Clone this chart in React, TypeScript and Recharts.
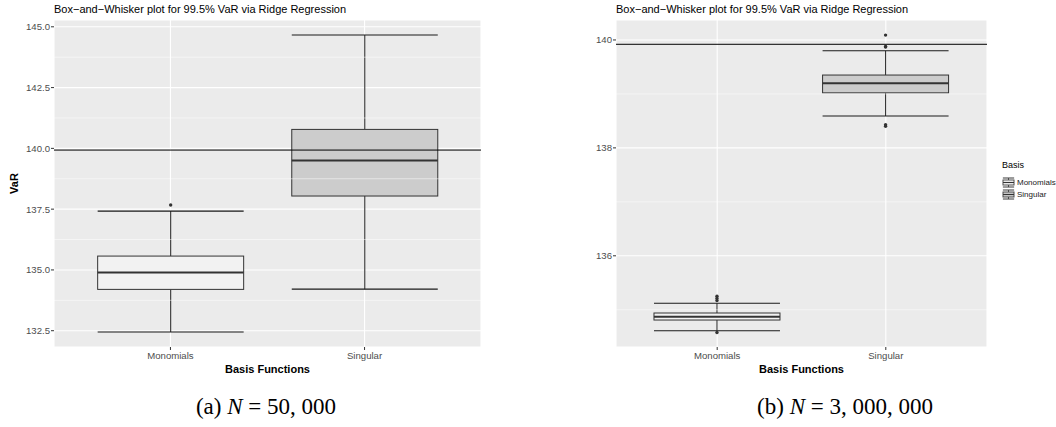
import React from 'react';
import { ComposedChart, Bar, XAxis, YAxis, CartesianGrid, ReferenceLine } from 'recharts';

// ---------- data ----------
const categories = ['Monomials', 'Singular'];

// Panel (a): N = 50,000
const aLower = [132.45, 134.21];
const aQ1 = [134.2, 138.04];
const aMedian = [134.89, 139.5];
const aQ3 = [135.57, 140.78];
const aUpper = [137.42, 144.66];
const aOutliers = [[137.67], []];
const aTrueVaR = 139.93;
const aTicks = [132.5, 135, 137.5, 140, 142.5, 145];
const aMinorTicks = [133.75, 136.25, 138.75, 141.25, 143.75];
const aDomain: [number, number] = [131.83, 145.28];

// Panel (b): N = 3,000,000
const bLower = [134.61, 138.59];
const bQ1 = [134.81, 139.02];
const bMedian = [134.87, 139.2];
const bQ3 = [134.94, 139.35];
const bUpper = [135.12, 139.8];
const bOutliers = [[135.25, 135.21, 135.17, 134.58], [140.09, 139.88, 139.87, 138.43, 138.4]];
const bTrueVaR = 139.92;
const bTicks = [136, 138, 140];
const bMinorTicks = [135, 137, 139];
const bDomain: [number, number] = [134.31, 140.37];

const titleText = 'Box\u2212and\u2212Whisker plot for 99.5% VaR via Ridge Regression';
const xTitle = 'Basis Functions';
const yTitle = 'VaR';
const legendTitle = 'Basis';

// ---------- styles ----------
const FONT = '"Liberation Sans", Arial, Helvetica, sans-serif';
const BOX_FILLS = ['#F2F2F2', '#CCCCCC'];
const BOX_STROKE = '#333333';
const CAP_STROKE = '#1A1A1A';

function buildRows(lower: number[], q1: number[], median: number[], q3: number[], upper: number[], outliers: number[][]) {
  return categories.map((c, i) => ({
    category: c,
    box: [q1[i], q3[i]],
    lower: lower[i],
    q1: q1[i],
    median: median[i],
    q3: q3[i],
    upper: upper[i],
    outliers: outliers[i],
    idx: i,
  }));
}

const aRows = buildRows(aLower, aQ1, aMedian, aQ3, aUpper, aOutliers);
const bRows = buildRows(bLower, bQ1, bMedian, bQ3, bUpper, bOutliers);

const BoxShape = (props: any) => {
  const { x, y, width, height, payload } = props;
  if (!payload) return null;
  const { q1, q3, median, lower, upper, outliers, idx } = payload;
  const top = Math.min(y, y + height);
  const h = Math.abs(height);
  const k = h / (q3 - q1);
  const yOf = (v: number) => top + (q3 - v) * k;
  const cx = x + width / 2;
  return (
    <g>
      <line x1={cx} x2={cx} y1={yOf(upper)} y2={top} stroke={BOX_STROKE} strokeWidth={1.1} />
      <line x1={cx} x2={cx} y1={top + h} y2={yOf(lower)} stroke={BOX_STROKE} strokeWidth={1.1} />
      <line x1={x} x2={x + width} y1={yOf(upper)} y2={yOf(upper)} stroke={CAP_STROKE} strokeWidth={1.1} />
      <line x1={x} x2={x + width} y1={yOf(lower)} y2={yOf(lower)} stroke={CAP_STROKE} strokeWidth={1.1} />
      <rect x={x} y={top} width={width} height={h} fill={BOX_FILLS[idx]} stroke={BOX_STROKE} strokeWidth={1} />
      <line x1={x} x2={x + width} y1={yOf(median)} y2={yOf(median)} stroke={BOX_STROKE} strokeWidth={2} />
      {outliers.map((v: number, j: number) => (
        <circle key={j} cx={cx} cy={yOf(v)} r={1.7} fill={BOX_STROKE} />
      ))}
    </g>
  );
};

const YLabel = (props: any) => {
  const vb = props.viewBox || {};
  const x = vb.x + 4;
  const y = vb.y + vb.height / 2;
  return (
    <text
      x={x}
      y={y}
      transform={`rotate(-90, ${x}, ${y})`}
      textAnchor="middle"
      dominantBaseline="central"
      fontFamily={FONT}
      fontSize={11}
      fontWeight="bold"
      fill="#000"
    >
      {yTitle}
    </text>
  );
};

type PanelProps = {
  rows: any[];
  trueVaR: number;
  ticks: number[];
  minorTicks: number[];
  domain: [number, number];
  digits: number;
  width: number;
  marginRight: number;
  yAxisWidth: number;
  pad: number;
  showYTitle: boolean;
};

const Panel = ({ rows, trueVaR, ticks, minorTicks, domain, digits, width, marginRight, yAxisWidth, pad, showYTitle }: PanelProps) => (
  <ComposedChart
    width={width}
    height={380}
    data={rows}
    margin={{ top: 20, right: marginRight, left: 10, bottom: 0 }}
    barCategoryGap="12.5%"
  >
    <CartesianGrid stroke="#FFFFFF" strokeWidth={1.1} fill="#EBEBEB" />
    {minorTicks.map((v) => (
      <ReferenceLine key={v} y={v} stroke="#FFFFFF" strokeWidth={0.5} />
    ))}
    <XAxis
      dataKey="category"
      type="category"
      padding={{ left: pad, right: pad }}
      axisLine={false}
      tickLine={{ stroke: '#333333' }}
      tickSize={3}
      tickMargin={2.5}
      tick={{ fill: '#4D4D4D', fontSize: 9.6, fontFamily: FONT }}
      height={33}
      label={{ value: xTitle, position: 'insideBottom', offset: 7, style: { fontFamily: FONT, fontSize: 11, fontWeight: 'bold', fill: '#000' } }}
    />
    <YAxis
      type="number"
      domain={domain}
      allowDataOverflow
      ticks={ticks}
      tickFormatter={(v: number) => v.toFixed(digits)}
      axisLine={false}
      tickLine={{ stroke: '#333333' }}
      tickSize={3}
      tickMargin={1}
      width={yAxisWidth}
      tick={{ fill: '#4D4D4D', fontSize: 9.6, fontFamily: FONT }}
      label={showYTitle ? <YLabel /> : undefined}
    />
    <Bar dataKey="box" shape={<BoxShape />} isAnimationActive={false} />
    <ReferenceLine y={trueVaR} stroke="#000000" strokeWidth={1} />
  </ComposedChart>
);

const LegendKey = ({ fill }: { fill: string }) => (
  <svg width={13} height={11} style={{ display: 'block', flex: 'none' }}>
    <rect x={0} y={0} width={13} height={11} fill="#F2F2F2" />
    <line x1={1} x2={12} y1={1} y2={1} stroke={CAP_STROKE} strokeWidth={0.8} />
    <line x1={1} x2={12} y1={10} y2={10} stroke={CAP_STROKE} strokeWidth={0.8} />
    <line x1={6.5} x2={6.5} y1={1} y2={10} stroke={BOX_STROKE} strokeWidth={0.8} />
    <rect x={1} y={3} width={11} height={5} fill={fill} stroke={BOX_STROKE} strokeWidth={0.8} />
    <line x1={1} x2={12} y1={5.5} y2={5.5} stroke={BOX_STROKE} strokeWidth={1.1} />
  </svg>
);

export default function App() {
  const titleStyle: React.CSSProperties = {
    position: 'absolute',
    top: 3,
    fontFamily: FONT,
    fontSize: 11,
    lineHeight: '12px',
    color: '#000',
    whiteSpace: 'nowrap',
  };
  const capStyle: React.CSSProperties = {
    position: 'absolute',
    top: 394,
    fontFamily: '"Liberation Serif", "Times New Roman", serif',
    fontSize: 23,
    lineHeight: '26px',
    color: '#000',
    whiteSpace: 'pre',
    transform: 'translateX(-50%)',
  };
  return (
    <div style={{ position: 'absolute', left: 0, top: 0, width: 1056, height: 427, background: '#fff', overflow: 'hidden' }}>
      <div style={{ position: 'absolute', left: 0, top: 0 }}>
        <Panel
          rows={aRows}
          trueVaR={aTrueVaR}
          ticks={aTicks}
          minorTicks={aMinorTicks}
          domain={aDomain}
          digits={1}
          width={490}
          marginRight={9}
          yAxisWidth={44}
          pad={19.4}
          showYTitle
        />
      </div>
      <div style={{ position: 'absolute', left: 560, top: 0 }}>
        <Panel
          rows={bRows}
          trueVaR={bTrueVaR}
          ticks={bTicks}
          minorTicks={bMinorTicks}
          domain={bDomain}
          digits={0}
          width={496}
          marginRight={69}
          yAxisWidth={46}
          pad={16.9}
          showYTitle={false}
        />
      </div>
      <div style={{ ...titleStyle, left: 54 }}>{titleText}</div>
      <div style={{ ...titleStyle, left: 616 }}>{titleText}</div>

      <div style={{ position: 'absolute', left: 1002, top: 160, fontFamily: FONT, color: '#000' }}>
        <div style={{ fontSize: 9, lineHeight: '10px', marginBottom: 6 }}>{legendTitle}</div>
        {categories.map((c, i) => (
          <div key={c} style={{ display: 'flex', alignItems: 'center', height: 12, marginBottom: 0.5 }}>
            <LegendKey fill={BOX_FILLS[i]} />
            <span style={{ fontSize: 8, marginLeft: 2, whiteSpace: 'nowrap', color: '#1a1a1a' }}>{c}</span>
          </div>
        ))}
      </div>

      <div style={{ ...capStyle, left: 266 }}>
        (a) <i>N</i> = 50, 000
      </div>
      <div style={{ ...capStyle, left: 845 }}>
        (b) <i>N</i> = 3, 000, 000
      </div>
    </div>
  );
}
